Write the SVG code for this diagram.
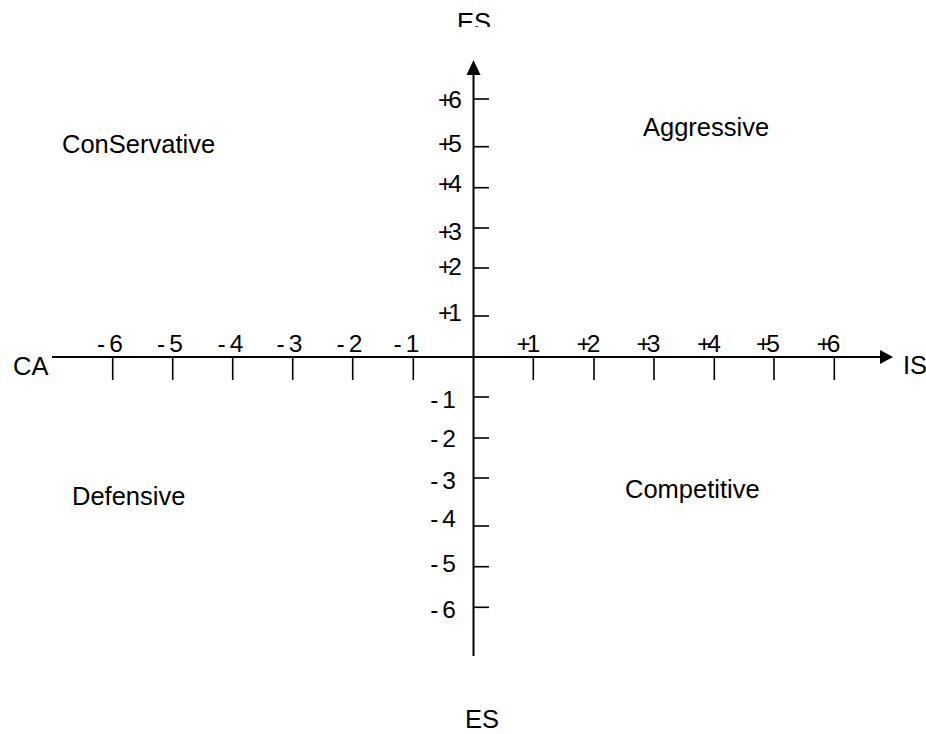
<svg xmlns="http://www.w3.org/2000/svg" width="926" height="734" viewBox="0 0 926 734">
<style>
text{font-family:"Liberation Sans",Arial,sans-serif;fill:#000}
.w{font-size:25.5px}
.n{font-size:24.5px}
.neg{letter-spacing:4px}
.pos{letter-spacing:-4px}
.ax{stroke:#000;stroke-width:2;fill:none}
.tk{stroke:#000;stroke-width:1.6;fill:none}
</style>
<defs>
<clipPath id="topclip"><rect x="0" y="0" width="926" height="27"/></clipPath>
</defs>
<rect width="926" height="734" fill="#fff"/>
<g id="connectors">
<line class="ax" x1="52" y1="357" x2="882" y2="357"/>
<polygon points="893,357 880,350 880,364" fill="#000"/>
<line class="ax" x1="473.5" y1="74" x2="473.5" y2="656"/>
<polygon points="473.5,60 466.5,75 480.5,75" fill="#000"/>
<g id="ticks-x">
<line class="tk" x1="112.7" y1="357" x2="112.7" y2="380"/>
<line class="tk" x1="172.7" y1="357" x2="172.7" y2="380"/>
<line class="tk" x1="232.7" y1="357" x2="232.7" y2="380"/>
<line class="tk" x1="292.7" y1="357" x2="292.7" y2="380"/>
<line class="tk" x1="352.7" y1="357" x2="352.7" y2="380"/>
<line class="tk" x1="413.3" y1="357" x2="413.3" y2="380"/>
<line class="tk" x1="533.3" y1="357" x2="533.3" y2="380"/>
<line class="tk" x1="594" y1="357" x2="594" y2="380"/>
<line class="tk" x1="654" y1="357" x2="654" y2="380"/>
<line class="tk" x1="714.3" y1="357" x2="714.3" y2="380"/>
<line class="tk" x1="774" y1="357" x2="774" y2="380"/>
<line class="tk" x1="834.3" y1="357" x2="834.3" y2="380"/>
</g>
<g id="ticks-y">
<line class="tk" x1="474" y1="99" x2="489" y2="99"/>
<line class="tk" x1="474" y1="146.7" x2="489" y2="146.7"/>
<line class="tk" x1="474" y1="187.7" x2="489" y2="187.7"/>
<line class="tk" x1="474" y1="228" x2="489" y2="228"/>
<line class="tk" x1="474" y1="268" x2="489" y2="268"/>
<line class="tk" x1="474" y1="316" x2="489" y2="316"/>
<line class="tk" x1="474" y1="397" x2="489" y2="397"/>
<line class="tk" x1="474" y1="438" x2="489" y2="438"/>
<line class="tk" x1="474" y1="478" x2="489" y2="478"/>
<line class="tk" x1="474" y1="526" x2="489" y2="526"/>
<line class="tk" x1="474" y1="566.7" x2="489" y2="566.7"/>
<line class="tk" x1="474" y1="607.3" x2="489" y2="607.3"/>
</g>
</g>
<g id="axis-labels">
<text class="w" x="13" y="375">CA</text>
<text class="w" x="903" y="374">IS</text>
<text class="w" x="465" y="728">ES</text>
<g clip-path="url(#topclip)"><text class="w" x="457" y="31">ES</text></g>
</g>
<g id="x-labels" text-anchor="middle">
<text class="n neg" x="112" y="352">-6</text>
<text class="n neg" x="172" y="352">-5</text>
<text class="n neg" x="232.5" y="352">-4</text>
<text class="n neg" x="291.5" y="352">-3</text>
<text class="n neg" x="351.5" y="352">-2</text>
<text class="n neg" x="408.5" y="352">-1</text>
<text class="n pos" x="526.5" y="352">+1</text>
<text class="n pos" x="586.5" y="352">+2</text>
<text class="n pos" x="646.5" y="352">+3</text>
<text class="n pos" x="707" y="352">+4</text>
<text class="n pos" x="766" y="352">+5</text>
<text class="n pos" x="826.5" y="352">+6</text>
</g>
<g id="y-labels" text-anchor="end">
<text class="n pos" x="458" y="108">+6</text>
<text class="n pos" x="458" y="152">+5</text>
<text class="n pos" x="458" y="192">+4</text>
<text class="n pos" x="458" y="240">+3</text>
<text class="n pos" x="458" y="275">+2</text>
<text class="n pos" x="458" y="321">+1</text>
<text class="n neg" x="460" y="408">-1</text>
<text class="n neg" x="460" y="447">-2</text>
<text class="n neg" x="460" y="489">-3</text>
<text class="n neg" x="460" y="527">-4</text>
<text class="n neg" x="460" y="572">-5</text>
<text class="n neg" x="460" y="618">-6</text>
</g>
<g id="quadrant-conservative"><text class="w" x="62" y="153">ConServative</text></g>
<g id="quadrant-aggressive"><text class="w" x="643" y="136">Aggressive</text></g>
<g id="quadrant-defensive"><text class="w" x="72" y="505">Defensive</text></g>
<g id="quadrant-competitive"><text class="w" x="625" y="498">Competitive</text></g>
</svg>
